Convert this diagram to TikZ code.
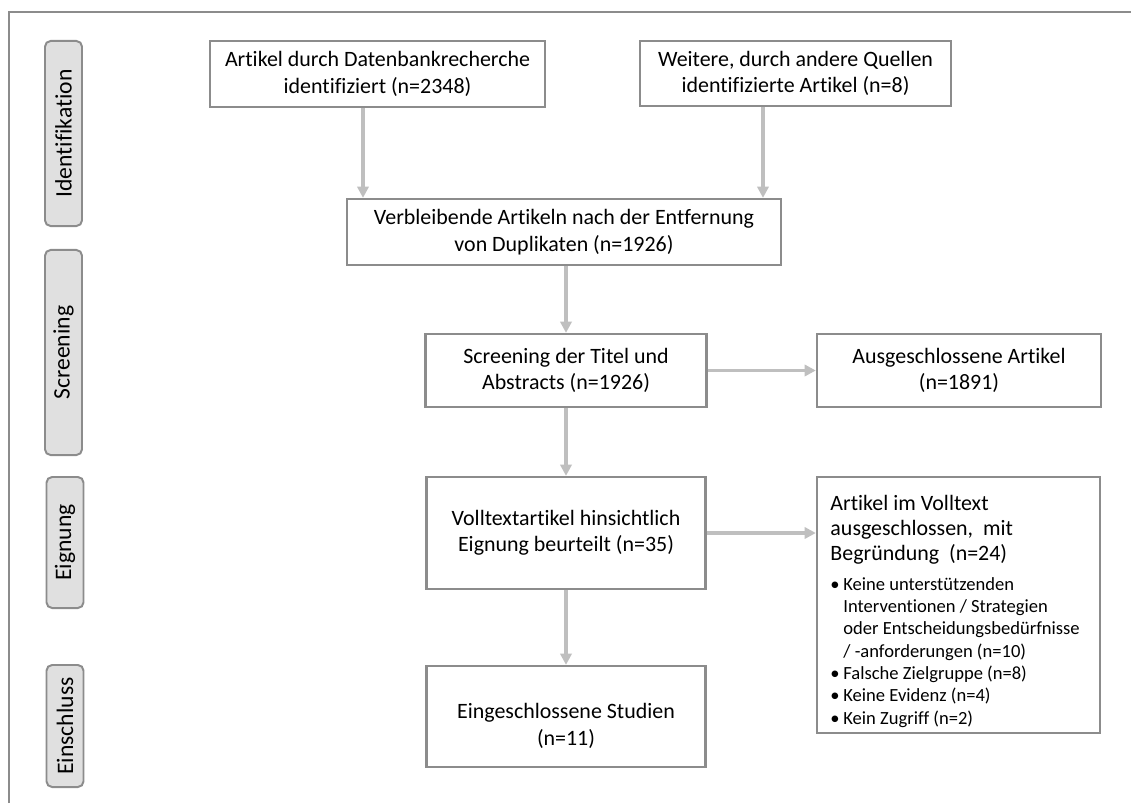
\documentclass[tikz,border=0pt]{standalone}
\usepackage{fontspec}
\setmainfont{Carlito}[Ligatures=NoCommon]
\usetikzlibrary{arrows.meta}
\definecolor{boxline}{HTML}{8C8C8C}
\definecolor{arrowgray}{HTML}{BFBFBF}
\definecolor{phasefill}{HTML}{E0E0E0}
\newcommand{\boxfont}{\fontsize{15.6}{18.8}\selectfont}
\newcommand{\headfont}{\fontsize{15.6}{17.8}\selectfont}
\newcommand{\listfont}{\fontsize{13.2}{15.9}\selectfont}
\newcommand{\bitem}{\hangindent=9.2pt\hangafter=1\makebox[9.2pt][l]{\textbullet}}

\begin{document}
\begin{tikzpicture}[x=0.025cm,y=-0.025cm,
    box/.style={draw=boxline,line width=1.6pt,align=center,font=\boxfont,inner sep=2pt},
    phase/.style={draw=boxline,fill=phasefill,line width=1.4pt,rounded corners=4pt,rotate=90,minimum height=0.925cm,inner sep=0pt,font=\fontsize{16.8}{19}\selectfont},
    arr/.style={draw=arrowgray,line width=2.2pt,-{Triangle[length=8pt,width=8pt]}}]
        \useasboundingbox (0,0) rectangle (1131,803);
        \draw[boxline,line width=1.4pt] (9,803) -- (9,12) -- (1131,12);

        \node(l1) at (63.5,133.5) [phase,minimum width=4.625cm]{Identifikation};
        \node(l2) at (63.5,352.5) [phase,minimum width=5.125cm]{Screening};
        \node(l3) at (65,542.5) [phase,minimum width=3.275cm]{Eignung};
        \node(l4) at (65,726) [phase,minimum width=3.05cm]{Einschluss};

        \node(a) at (377.5,74) [box,minimum width=8.375cm,minimum height=1.65cm]{Artikel durch Datenbankrecherche\\identifiziert (n=2348)};
        \node(b) at (795.5,73.5) [box,minimum width=7.775cm,minimum height=1.625cm]{Weitere, durch andere Quellen\\identifizierte Artikel (n=8)};
        \node(c) at (564,232) [box,minimum width=10.85cm,minimum height=1.65cm]{Verbleibende Artikeln nach der Entfernung\\von Duplikaten (n=1926)};
        \node(d) at (566,370.5) [box,minimum width=7.025cm,minimum height=1.825cm]{Screening der Titel und\\Abstracts (n=1926)};
        \node(e) at (959,370.5) [box,minimum width=7.1cm,minimum height=1.825cm]{Ausgeschlossene Artikel\\(n=1891)};
        \node(f) at (566,533) [box,minimum width=6.975cm,minimum height=2.8cm]{Volltextartikel hinsichtlich\\Eignung beurteilt (n=35)};
        \node(g) at (566,716.5) [box,minimum width=6.975cm,minimum height=2.525cm]{\rule{0pt}{24pt}Eingeschlossene Studien\\(n=11)};
        \node(h) at (958.5,605) [box,minimum height=6.4cm,text width=6.4cm,align=flush left,inner xsep=0.3375cm]{%
            \setlength{\parindent}{0pt}%
            {\headfont\rule{0pt}{20pt}Artikel im Volltext\\ausgeschlossen,~ mit\\Begründung~ (n=24)\par}%
            \vspace{5pt}%
            {\listfont
            \bitem Keine unterstützenden\newline Interventionen / Strategien\newline oder Entscheidungsbedürfnisse\newline / -anforderungen (n=10)\par
            \bitem Falsche Zielgruppe (n=8)\par
            \bitem Keine Evidenz (n=4)\par
            \bitem Kein Zugriff (n=2)\par}};

        \draw[arr] ([xshift=-0.3625cm]a.south) -- ([xshift=-0.3625cm]a.south |- c.north);
        \draw[arr] ([xshift=-0.8125cm]b.south) -- ([xshift=-0.8125cm]b.south |- c.north);
        \draw[arr] (d.north |- c.south) -- (d.north);
        \draw[arr] (d.east) -- (e.west);
        \draw[arr] (d.south) -- (f.north);
        \draw[arr] (f.east) -- (h.west |- f.east);
        \draw[arr] (f.south) -- (g.north);
\end{tikzpicture}
\end{document}
